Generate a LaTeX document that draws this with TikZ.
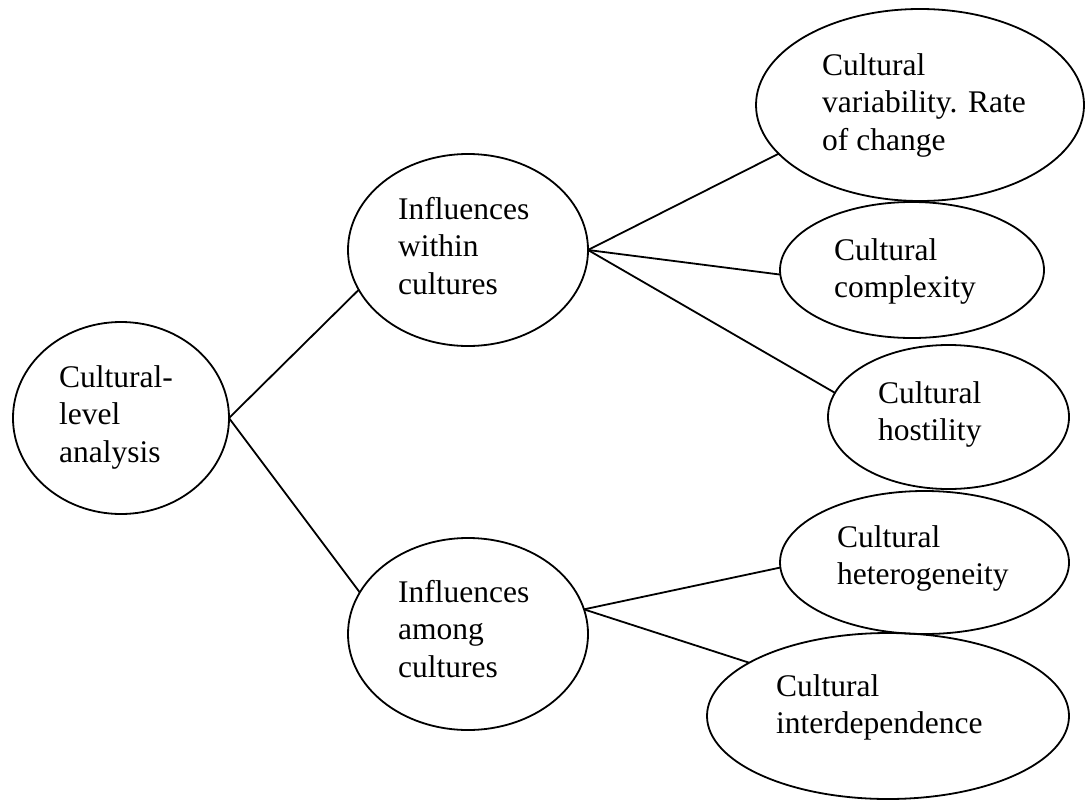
\documentclass[tikz,border=0pt]{standalone}
\usepackage{fontspec}
\setmainfont{Liberation Serif}
\usetikzlibrary{shapes.geometric}
\tikzset{
  ell/.style={draw, ellipse, line width=1.8pt, inner sep=0pt, outer sep=0pt},
  lbl/.style={anchor=base west, inner sep=0pt, font=\fontsize{31.5}{37.5}\selectfont},
  conn/.style={line width=1.8pt}
}
\newcommand{\lines}[1]{\begin{tabular}[t]{@{}l@{}}#1\end{tabular}}
\begin{document}
\begin{tikzpicture}[x=1pt,y=-1pt]
\useasboundingbox (0,0) rectangle (1086,800);
% ellipses
\node[ell, minimum width=216pt, minimum height=192pt] (e1) at (121,418) {};
\node[ell, minimum width=240pt, minimum height=192pt] (e2) at (468,250) {};
\node[ell, minimum width=240pt, minimum height=192pt] (e3) at (468,634) {};
\node[ell, minimum width=328pt, minimum height=192pt] (e4) at (920,105) {};
\node[ell, minimum width=264pt, minimum height=136pt] (e5) at (912,270) {};
\node[ell, minimum width=241pt, minimum height=144pt] (e6) at (948.5,417) {};
\node[ell, minimum width=289pt, minimum height=143pt] (e7) at (924.5,562.5) {};
\node[ell, minimum width=362pt, minimum height=166pt] (e8) at (888,716) {};
% texts
\node[lbl] (t1) at (59,387) {\lines{Cultural-\\level\\analysis}};
\node[lbl] (t2) at (398,219) {\lines{Influences\\within\\cultures}};
\node[lbl] (t3) at (398,602) {\lines{Influences\\among\\cultures}};
\node[lbl] (t4) at (822,75) {\lines{Cultural\\variability. Rate\\of change}};
\node[lbl] (t5) at (834,260) {\lines{Cultural\\complexity}};
\node[lbl] (t6) at (878,403) {\lines{Cultural\\hostility}};
\node[lbl] (t7) at (837,547) {\lines{Cultural\\heterogeneity}};
\node[lbl] (t8) at (776,696) {\lines{Cultural\\interdependence}};
% connectors
\draw[conn] (e1.east) -- (e2.200);
\draw[conn] (e1.east) -- (e3.159);
\draw[conn] (e2.east) -- (e4.199);
\draw[conn] (e2.east) -- (e5.182);
\draw[conn] (e2.east) -- (e6.168);
\draw[conn] (e3.12) -- (e7.182);
\draw[conn] (e3.12) -- (e8.159);
\end{tikzpicture}
\end{document}
